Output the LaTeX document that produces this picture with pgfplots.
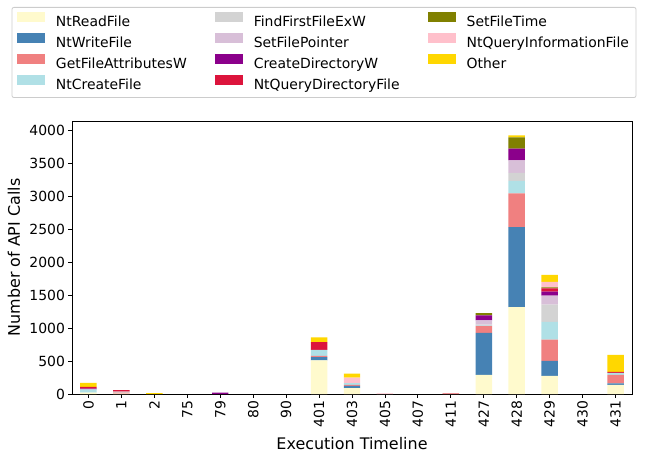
\documentclass[border=0pt]{standalone}
\usepackage{pgfplots}
\usepackage{pgfplotstable}
\pgfplotsset{compat=1.18}
\usepackage{fontspec}
\setmainfont{DejaVu Sans}
\definecolor{cRead}{HTML}{FFFACD}
\definecolor{cWrite}{HTML}{4682B4}
\definecolor{cGetAttr}{HTML}{F08080}
\definecolor{cCreate}{HTML}{B0E0E6}
\definecolor{cFind}{HTML}{D3D3D3}
\definecolor{cSetPtr}{HTML}{D8BFD8}
\definecolor{cCreateDir}{HTML}{8B008B}
\definecolor{cQueryDir}{HTML}{DC143C}
\definecolor{cSetTime}{HTML}{808000}
\definecolor{cQueryInfo}{HTML}{FFC0CB}
\definecolor{cOther}{HTML}{FFD700}
\pgfplotsset{mybar/.style={fill=#1, draw=none,
  legend image code/.code={\fill[#1, sharp corners] (0bp,0bp) rectangle (28bp,10bp);}}}
\pgfplotstableread{
x Read Write GetAttr Create Find SetPtr CreateDir QueryDir SetTime QueryInfo Other
0  20   0    0   50   0   0   10  30   0   0   60
1  5    0    15  5    10  0   0   25   0   0   0
2  0    0    0   0    0   0   0   0    0   0   15
3  0    0    0   0    0   0   0   0    0   0   0
4  0    0    0   0    0   0   20  0    0   0   0
5  0    0    0   0    0   0   0   0    0   0   0
6  0    0    0   0    0   0   0   0    0   0   0
7  510  50   20  90   0   0   0   120  0   0   70
8  90   35   15  25   0   0   0   0    0   85  60
9  0    0    0   0    0   0   0   0    0   10  0
10 0    0    0   0    0   0   0   0    0   0   0
11 0    0    10  0    0   0   0   5    0   0   0
12 290  640  105 10   10  65  75  0    35  0   0
13 1320 1215 515 190  120 190 180 0    170 0   30
14 275  230  320 270  265 135 60  50   15  85  105
15 0    0    0   0    0   0   0   0    0   0   0
16 140  20   130 30   0   0   0   15   0   0   260
}\datatable
\begin{document}
\begin{tikzpicture}
\useasboundingbox (-72bp,-60bp) rectangle (573bp,394bp);
\begin{axis}[
  at={(0,0)}, anchor=south west,
  scale only axis, width=560bp, height=273bp,
  ybar stacked, bar width=0.5,
  xmin=-0.5, xmax=16.5, ymin=0, ymax=4150,
  xtick={0,...,16},
  xticklabels={0,1,2,75,79,80,90,401,403,405,407,411,427,428,429,430,431},
  ytick={0,500,...,4000},
  tick align=outside, tick pos=left,
  major tick length=3.5bp,
  tick style={black, line width=0.8bp},
  axis line style={line width=0.8bp},
  /pgf/number format/assume math mode=true,
  /pgf/number format/1000 sep={},
  x tick label style={rotate=90, anchor=east, font=\fontsize{14}{16}\selectfont},
  y tick label style={font=\fontsize{14}{16}\selectfont},
  xlabel={Execution Timeline},
  ylabel={Number of API Calls},
  label style={font=\fontsize{16}{19}\selectfont},
  xlabel style={at={(axis description cs:0.5,-0.2015)}, anchor=base},
  ylabel style={at={(axis description cs:-0.0929,0.5)}, anchor=base},
  legend columns=4,
  transpose legend,
  legend cell align=left,
  legend style={at={(0.45,1.4176)}, anchor=north, draw=black!20, line width=0.8bp,
    rounded corners=2bp, font=\fontsize{14}{17}\selectfont,
    inner xsep=5bp, inner ysep=4.5bp, row sep=3bp,
    /tikz/every odd column/.append style={column sep=9bp},
    /tikz/every even column/.append style={column sep=26bp}},
]
\addplot[mybar=cRead] table[x=x,y=Read]{\datatable};
\addlegendentry{NtReadFile}
\addplot[mybar=cWrite] table[x=x,y=Write]{\datatable};
\addlegendentry{NtWriteFile}
\addplot[mybar=cGetAttr] table[x=x,y=GetAttr]{\datatable};
\addlegendentry{GetFileAttributesW}
\addplot[mybar=cCreate] table[x=x,y=Create]{\datatable};
\addlegendentry{NtCreateFile}
\addplot[mybar=cFind] table[x=x,y=Find]{\datatable};
\addlegendentry{FindFirstFileExW}
\addplot[mybar=cSetPtr] table[x=x,y=SetPtr]{\datatable};
\addlegendentry{SetFilePointer}
\addplot[mybar=cCreateDir] table[x=x,y=CreateDir]{\datatable};
\addlegendentry{CreateDirectoryW}
\addplot[mybar=cQueryDir] table[x=x,y=QueryDir]{\datatable};
\addlegendentry{NtQueryDirectoryFile}
\addplot[mybar=cSetTime] table[x=x,y=SetTime]{\datatable};
\addlegendentry{SetFileTime}
\addplot[mybar=cQueryInfo] table[x=x,y=QueryInfo]{\datatable};
\addlegendentry{NtQueryInformationFile}
\addplot[mybar=cOther] table[x=x,y=Other]{\datatable};
\addlegendentry{Other}
\end{axis}
\end{tikzpicture}
\end{document}
